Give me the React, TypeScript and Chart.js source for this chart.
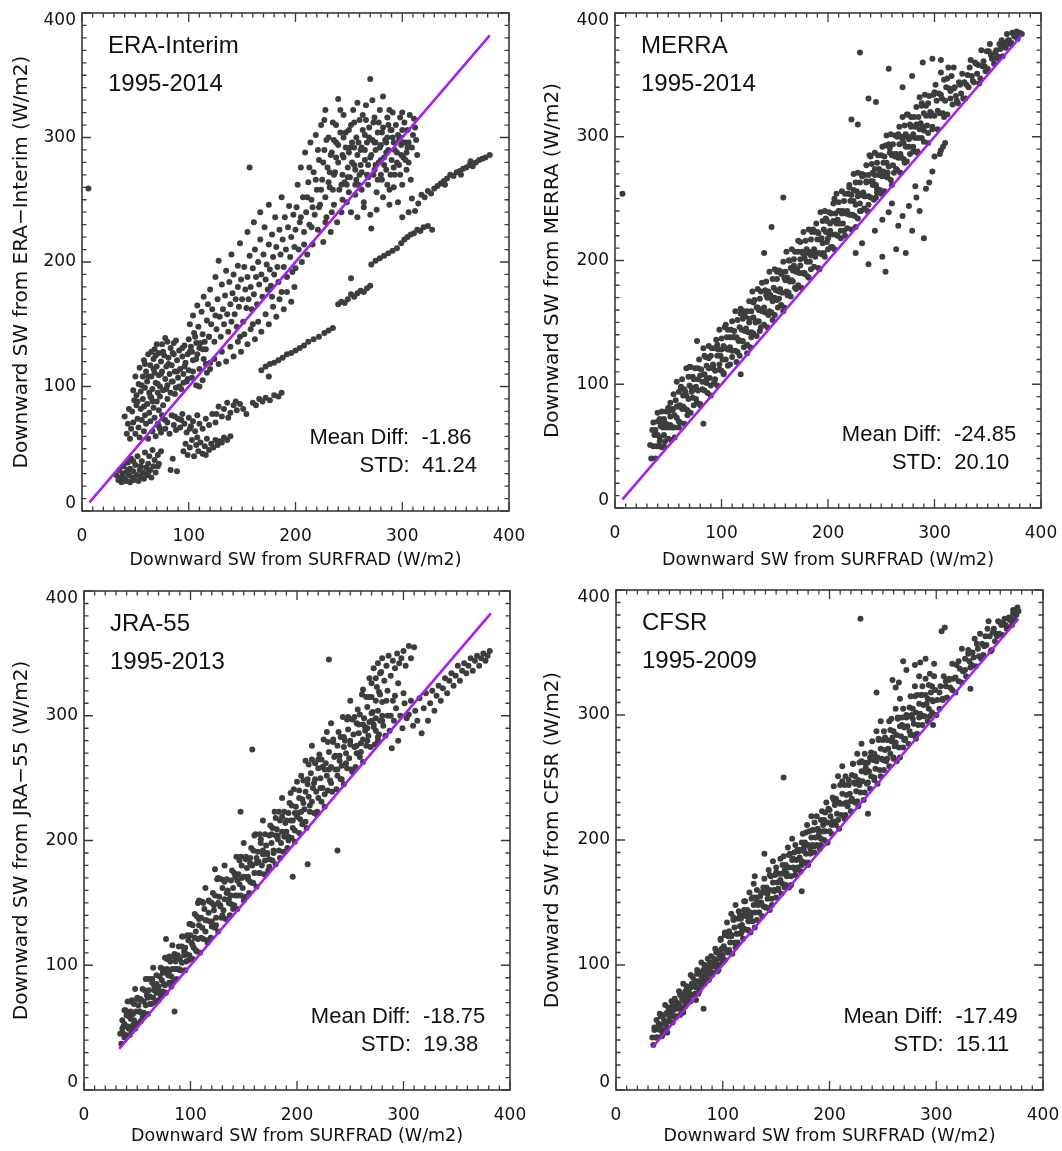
import React, { useEffect, useRef } from "react";
import { Chart, registerables } from "chart.js";

Chart.register(...registerables);

// ---------- data ----------
const axisTickValues = [0, 100, 200, 300, 400];
const minorTickStep = 10;
const xAxisTitle = "Downward SW from SURFRAD (W/m2)";
const panelNames = ["ERA-Interim", "MERRA", "JRA-55", "CFSR"];
const panelPeriods = ["1995-2014", "1995-2014", "1995-2013", "1995-2009"];
const yAxisTitles = [
  "Downward SW from ERA\u2212Interim (W/m2)",
  "Downward SW from MERRA (W/m2)",
  "Downward SW from JRA\u221255 (W/m2)",
  "Downward SW from CFSR (W/m2)",
];
const meanDiffs = ["-1.86", "-24.85", "-18.75", "-17.49"];
const stdValues = ["41.24", "20.10", "19.38", "15.11"];
const oneToOneStart = [7, 7, 33, 34];
const oneToOneEnd = [382, 382, 382, 377];

const eraPoints: [number, number][] = [
  [6,259],
  [32,29],[34,25],[35,33],[36,27],[37,23],[38,30],[39,36],[40,26],[41,31],[42,24],[43,39],[44,29],[45,34],[45,23],[46,42],[47,27],[48,32],[49,25],[50,37],[51,29],[52,44],[53,24],[54,33],[55,28],[56,40],[57,31],[58,26],[59,47],[60,35],[61,29],[62,38],[63,44],[64,33],[65,27],[66,49],[67,36],[68,41],[69,31],[71,45],[72,38],[74,48],[85,42],[83,33],[89,32],[71,36],[55,36],[48,40],[43,33],[39,24],[62,31],
  [40,76],[42,62],[43,70],[45,58],[46,66],[47,80],[48,71],[50,62],[51,85],[52,74],[53,67],[54,59],[55,82],[56,73],[57,90],[58,64],[59,77],[60,70],[61,86],[62,58],[63,79],[64,72],[65,91],[66,64],[67,83],[68,75],[69,60],[70,88],[71,70],[72,81],[73,66],[75,77],[76,85],[78,73],[44,82],[49,89],
  [48,97],[50,108],[51,93],[53,102],[54,115],[55,96],[57,108],[58,121],[59,99],[60,112],[61,104],[62,126],[63,95],[64,117],[65,108],[66,98],[67,122],[68,111],[68,130],[69,103],[70,116],[71,95],[72,127],[72,109],[73,100],[74,120],[75,134],[75,112],[76,97],[77,125],[78,106],[79,116],[80,136],[80,101],[81,123],[82,110],[83,95],[83,131],[84,117],[85,104],[86,126],[87,112],[88,99],[88,137],[89,121],[90,107],[91,129],[92,114],[93,98],[94,124],[95,110],[96,133],[97,119],[98,104],[99,126],[100,113],[102,132],[103,107],[104,121],[106,140],[107,101],[108,126],[110,114],[111,135],[113,105],[114,122],[116,130],[117,111],[119,140],[120,119],[65,128],[70,134],[78,139],[85,127],
  [52,88],[56,101],[59,118],[62,108],[64,92],[67,114],[69,125],[71,102],[74,110],[76,128],[79,98],[81,118],[84,104],[86,135],[89,112],[91,100],[94,131],[96,116],[99,106],[101,128],[104,112],[107,122],[110,100],[113,130],[116,118],[58,84],[66,88],[73,92],[80,90],[87,94],[95,103],
  [72,68],[74,63],[76,74],[78,66],[80,71],[82,62],[84,77],[86,69],[88,65],[90,74],[92,67],[94,78],[96,70],[98,63],[100,75],[102,68],[104,72],[106,64],[108,77],[110,70],[113,66],[116,74],[119,69],[122,78],[125,71],[93,73],[87,76],[101,66],
  [95,48],[97,54],[99,45],[101,51],[103,57],[105,44],[107,53],[109,48],[111,55],[113,46],[115,52],[117,58],[119,49],[121,54],[123,51],[125,57],[127,53],[129,56],[131,55],[133,59],[136,57],[139,60],[108,59],[116,45],
  [126,78],[128,84],[131,76],[133,82],[136,87],[139,79],[142,85],[145,81],[148,86],[151,82],[154,78],[137,75],[144,88],
  [160,87],[163,85],[166,90],[169,88],[172,91],[176,89],[180,93],[184,92],[187,95],
  [100,138],[101,150],[103,128],[104,157],[105,143],[107,135],[108,165],[109,148],[110,131],[112,160],[113,142],[114,172],[115,136],[117,153],[118,166],[119,140],[120,178],[121,150],[122,162],[124,136],[125,188],[125,157],[126,146],[127,170],[128,201],[129,156],[130,140],[131,182],[132,162],[133,150],[134,173],[135,193],[136,158],[137,144],[138,184],[139,166],[140,206],[140,152],[141,175],[142,190],[143,158],[144,170],[145,148],[146,197],[146,180],[147,164],[148,215],[149,186],[150,170],[151,152],[152,196],[153,178],[154,163],[155,224],[155,188],[156,170],[157,276],[157,205],[158,180],[159,162],[160,195],[161,232],[161,174],[162,210],[163,188],[164,166],[165,200],[166,182],[167,240],[167,218],[168,190],[169,172],[170,206],[171,228],[172,186],[173,198],[174,178],[175,246],[175,214],[176,194],[177,181],[178,222],[179,204],[180,190],[181,236],[182,212],[183,196],[184,184],[185,226],[186,206],[187,252],[188,218],[189,196],[190,236],[191,210],[192,188],[193,228],[194,245],[195,204],[196,220],[197,192],[198,238],[199,212],[200,226],
  [120,114],[124,122],[128,118],[131,128],[135,120],[139,132],[142,124],[146,136],[149,128],[152,142],[155,134],[158,146],[162,138],[165,152],[168,144],[172,158],[175,150],[179,164],[182,156],[185,170],[189,162],[192,176],[196,168],[199,180],[187,176],[178,172],[160,150],[148,140],
  [168,113],[172,116],[176,118],[180,119],[184,121],[188,123],[192,126],[196,127],[200,129],[204,131],[208,133],[212,136],[217,138],[222,140],[227,143],[231,145],[235,147],[240,166],[243,168],[246,167],[249,170],[252,174],[255,172],[258,175],[261,177],[264,176],[267,179],[270,181],[175,108],
  [200,195],[201,244],[202,262],[203,210],[204,232],[205,276],[206,200],[207,252],[208,224],[209,288],[210,240],[211,206],[212,264],[213,230],[214,296],[215,250],[216,214],[217,272],[218,238],[219,302],[220,258],[221,226],[222,282],[223,246],[224,310],[225,266],[226,216],[227,290],[228,322],[228,252],[229,236],[230,276],[231,300],[232,260],[233,224],[234,288],[235,312],[236,246],[237,272],[238,296],[239,232],[240,331],[240,280],[241,258],[242,304],[243,240],[244,286],[245,318],[246,264],[247,292],[248,248],[249,276],[250,306],[251,268],[252,240],[253,296],[254,322],[255,278],[256,254],[257,300],[258,286],[259,262],[260,314],[261,290],[262,272],[263,306],[264,248],[265,282],[266,326],[267,296],[268,262],[269,308],[270,347],[270,284],[271,227],[272,298],[273,270],[274,316],[275,290],[276,256],[277,304],[278,280],[279,322],[280,294],[281,266],[282,333],[282,308],[283,284],[284,298],[285,274],[286,316],[287,290],[288,258],[289,306],[290,282],[291,320],[292,296],[293,270],[294,310],[295,288],[296,302],[297,278],[298,316],[299,294],[300,306],[301,284],[302,312],[303,296],[305,306],[306,280],[307,318],[309,292],[310,302],[311,315],[313,298],[314,286],[308,266],[304,274],
  [232,272],[238,284],[244,270],[250,288],[256,274],[262,292],[268,278],[274,296],[280,282],[286,300],[245,300],[255,292],[265,302],[275,278],[285,288],[235,258],[248,262],[260,270],[236,298],[252,310],[266,314],[278,312],[290,306],[298,300],[227,314],[242,322],[258,328],[272,330],[288,322],[300,320],[306,296],[312,308],[292,260],[300,262],[296,248],[288,246],[282,252],[276,242],[270,238],[264,244],[258,236],[252,187],
  [211,252],[213,276],[216,244],[219,266],[221,290],[224,258],[226,280],[229,298],[231,264],[233,286],[236,270],[238,310],[240,294],[243,262],[245,284],[247,304],[249,268],[251,292],[253,280],[255,312],[257,266],[259,296],[261,278],[263,318],[265,290],[267,270],[269,300],[271,286],[273,312],[275,296],[277,266],[279,292],[281,304],[283,278],[285,296],[287,310],[289,270],[291,300],[293,290],[295,280],[297,298],[299,286],[301,296],[303,282],[305,292],[244,250],[250,256],[256,262],[262,258],[268,268],[274,274],[280,270],[286,262],[292,276],[298,270],[304,288],[234,240],[228,232],[222,244],[215,228],[208,214],[205,236],
  [271,198],[275,201],[279,203],[283,205],[287,207],[291,209],[295,211],[299,215],[302,218],[305,220],[308,222],[311,223],[314,226],[317,225],[320,228],[324,229],[328,226],[309,251],[312,241],[315,247],[318,254],[321,252],[324,257],[327,255],[330,259],[333,261],[336,263],[339,265],[342,267],[345,270],[348,269],[351,272],[354,273],[357,275],[360,276],[363,278],[366,277],[369,280],[372,282],[375,283],[378,284],[382,286],[340,262],[355,270],[364,281],[306,240],[300,236],
];

const merraPoints: [number, number][] = [
  [7,254],[230,368],[222,314],[257,355],[270,340],[279,349],[289,360],[298,363],[306,362],[238,331],[245,328],[77,135],[83,68],[118,108],[140,206],[147,227],[158,251],[228,310],
  [33,51],[34,40],[35,63],[36,50],[36,69],[37,59],[38,40],[38,63],[39,50],[40,77],[40,59],[41,50],[42,72],[42,57],[43,66],[44,49],[44,78],[45,65],[46,59],[46,72],[47,54],[48,78],[48,65],
  [49,67],[50,56],[50,78],[51,65],[52,85],[52,74],[53,55],[54,79],[54,65],[55,92],[56,75],[56,65],[57,87],[58,73],[58,102],[59,82],[60,65],[60,94],
  [61,83],[61,69],[62,97],[63,80],[63,104],[64,91],[65,68],[65,96],[66,80],[67,113],[67,91],[68,79],[69,106],[69,88],[70,99],[71,77],[71,114],[72,97],[73,89],[73,106],[74,83],[75,113],[75,96],
  [76,98],[77,85],[78,113],[78,95],[79,120],[80,107],[80,83],[81,112],[82,96],[83,129],[84,108],[84,95],[85,122],[86,105],[86,115],[87,93],[88,131],[88,113],[89,105],[90,123],[90,99],[91,129],[92,113],
  [92,114],[93,101],[94,129],[94,111],[95,136],[96,123],[96,99],[97,128],[98,112],[98,144],[99,123],[100,111],[100,137],[101,120],[102,131],[102,108],[103,146],[104,129],[104,120],[105,138],[106,115],[106,144],[107,128],
  [108,130],[108,116],[109,144],[110,127],[110,151],[111,138],[112,143],[113,127],[113,159],[114,138],[115,126],[115,152],[116,135],[117,146],[117,123],[118,161],[119,144],[119,135],[120,153],[121,130],[121,159],[122,143],
  [123,145],[124,132],[124,159],[125,142],[126,167],[126,153],[127,130],[128,159],[128,142],[129,175],[130,154],[130,141],[131,168],[132,151],[133,162],[133,139],[134,177],[135,160],[135,151],[136,169],[137,146],[137,175],[138,159],
  [139,161],[140,148],[141,176],[141,158],[142,183],[143,170],[143,146],[144,175],[145,159],[145,191],[146,170],[147,158],[148,185],[148,167],[149,178],[150,156],[150,193],[151,176],[152,168],[152,185],[153,162],[154,192],[154,175],
  [155,177],[156,164],[156,191],[157,174],[158,199],[159,186],[159,162],[160,191],[161,175],[161,207],[162,186],[163,174],[163,200],[164,183],[165,194],[165,171],[166,209],[167,192],[167,183],[168,201],[169,178],[169,207],[170,191],
  [171,193],[172,180],[172,207],[173,190],[174,215],[174,201],[175,178],[176,207],[176,190],[177,223],[178,202],[178,189],[179,216],[180,199],[180,209],[181,187],[182,225],[182,207],[183,199],[184,217],[184,193],[185,223],[186,207],
  [187,209],[187,195],[188,223],[189,206],[189,230],[190,217],[191,194],[191,222],[192,206],[193,239],[193,217],[194,205],[195,232],[195,214],[196,225],[197,203],[197,240],[198,223],[199,215],[199,232],[200,209],[201,239],[201,222],
  [202,224],[203,211],[203,238],[204,221],[205,246],[205,232],[206,209],[207,238],[207,221],[208,254],[209,233],[209,220],[210,247],[211,230],[211,240],[212,218],[213,256],[213,238],[214,230],[215,248],[215,224],[216,254],[217,238],
  [218,240],[218,226],[219,254],[220,237],[220,261],[221,248],[222,225],[222,253],[223,237],[224,270],[224,248],[225,236],[226,263],[226,245],[227,256],[228,234],[228,271],[229,254],[230,246],[230,263],[231,240],[232,270],[232,253],
  [233,255],[234,242],[234,269],[235,252],[236,277],[236,263],[237,240],[238,269],[238,252],[239,285],[240,264],[240,251],[241,278],[242,261],[242,271],[243,249],[244,287],[244,269],[245,261],[246,279],[246,255],[247,285],[248,269],
  [249,271],[249,257],[250,285],[251,268],[251,292],[252,279],[253,256],[253,284],[254,268],[255,301],[255,279],[256,267],[257,294],[257,276],[258,287],[259,265],[259,302],[260,285],[261,277],[261,294],[262,271],[263,301],[263,284],
  [264,286],[265,273],[265,300],[266,283],[267,308],[267,294],[268,271],[269,300],[269,283],[270,316],[271,295],[271,282],[272,309],[273,292],[273,302],[274,280],[275,318],[275,300],[276,292],[277,310],[277,286],[278,316],[279,300],
  [280,302],[280,288],[281,316],[282,299],[283,324],[283,310],[284,287],[285,316],[285,299],[286,332],[287,311],[288,299],[288,325],[289,308],[290,319],[290,296],[291,334],[292,317],[293,309],[294,327],[294,303],[295,333],[296,317],
  [297,319],[298,306],[299,334],[300,317],[301,342],[302,329],[303,306],[304,335],[305,319],[306,352],[307,331],[308,319],[309,346],[310,329],[311,340],[312,318],[313,356],[314,339],[315,331],[316,349],[317,326],[318,356],[319,340],
  [320,333],[322,327],[323,344],[325,335],[326,351],[328,344],[329,331],[331,350],[332,340],[334,362],[335,349],[337,344],[338,360],[340,351],[341,358],[343,347],[344,370],[346,361],[347,357],[349,369],[350,355],[352,375],[353,366],
  [355,363],[356,359],[358,370],[359,365],[361,375],[362,371],[364,365],[365,376],[367,372],[368,383],[370,378],[371,375],[373,384],[375,382],[377,385],[378,380],[380,384],[382,383],
  [40,70],[42,54],[44,70],[46,50],[48,68],[50,81],[52,67],[54,80],[56,57],[58,82],[60,70],[62,98],[64,82],[66,94],[68,75],[70,114],[72,94],[74,104],[76,88],[78,104],[80,84],[82,102],[84,123],[86,101],[88,121],[90,91],[92,116],[94,104],[96,132],[98,116],
  [100,128],[102,109],[104,148],[106,128],[108,138],[110,122],[112,138],[114,118],[116,136],[118,157],[120,135],[122,155],[124,125],[126,150],[128,138],[130,166],[132,150],[134,162],[136,143],[138,182],[140,162],[142,172],[144,156],[146,172],[148,152],[150,170],[152,191],[154,169],[156,189],[158,159],
  [160,184],[162,172],[164,200],[166,184],[168,196],[170,177],[172,216],[174,196],[176,206],[178,190],[180,206],[182,186],[184,204],[186,225],[188,203],[190,223],[192,193],[194,218],[196,206],[198,234],[200,218],[202,230],[204,211],[206,250],[208,230],[210,240],[212,224],[214,240],[216,220],[218,238],
  [220,259],[222,237],[224,257],[226,227],[228,252],[230,240],[232,268],[234,252],[236,264],[238,245],[240,284],[242,264],[244,274],[246,258],[248,274],[250,254],[252,272],[254,293],[256,271],[258,291],[260,261],[262,286],[264,274],[266,302],[268,286],[270,298],[272,279],[274,318],[276,298],[278,308],
  [280,292],[282,308],[284,288],[286,306],[288,327],[290,305],[292,325],[294,295],[296,320],[298,308],[300,336],[303,321],[306,334],[309,316],[312,347],[315,337],[318,339],[321,329],[324,342],[327,331],[330,342],[333,356],[336,345],[339,359],[342,343],[345,357],[348,353],[351,369],[354,363],[357,368],[360,363],[363,378],[366,374],[369,378],[372,376],[375,381],[378,379],
  [226,206],[232,214],[238,197],[244,224],[245,251],[251,203],[251,233],[254,191],[257,239],[260,246],[264,209],[266,228],[270,236],[273,206],[276,244],[279,224],[282,260],[283,251],[286,240],[290,218],[292,258],[295,263],[298,272],[300,284],[305,286],[306,289],[308,292],[310,295],
];

const jraPoints: [number, number][] = [
  [34,45],[35,37],[36,56],[37,45],[38,64],[38,53],[39,44],[40,63],[41,51],[41,71],[42,59],[43,44],[44,63],[44,57],[45,72],[46,52],[47,69],[47,56],[48,81],[49,63],[50,53],[50,74],[51,68],
  [52,63],[53,55],[53,73],[54,62],[55,81],[56,71],[56,61],[57,80],[58,68],[59,89],[59,76],[60,61],[61,80],[62,75],[62,89],[63,69],[64,86],[65,74],[65,98],[66,80],[67,70],[68,92],[68,85],
  [69,80],[70,72],[71,91],[71,79],[72,98],[73,88],[74,79],[74,97],[75,85],[76,106],[77,94],[77,78],[78,97],[79,92],[80,107],[80,86],[81,103],[82,91],[83,116],[83,97],[84,87],[85,109],[86,103],
  [86,97],[87,89],[88,108],[89,97],[89,115],[90,105],[91,96],[92,115],[92,102],[93,123],[94,111],[95,96],[95,114],[96,109],[97,124],[98,104],[98,120],[99,108],[100,133],
  [77,121],[85,63],[99,133],[39,64],[42,49],[37,51],[45,47],[55,58],
  [101,118],[102,105],[102,132],[103,114],[104,141],[105,127],[105,112],[106,139],[107,121],[108,152],[108,132],[109,110],[110,138],[111,130],[111,151],[112,121],[113,145],[114,127],[114,162],[115,136],[116,120],[117,152],[117,142],
  [118,135],[119,122],[120,150],[120,131],[121,158],[122,144],[123,130],[123,156],[124,138],[125,169],[126,150],[126,127],[127,155],[128,147],[129,169],[129,138],[130,162],[131,144],[132,180],[132,153],[133,137],[134,169],[135,160],
  [136,153],[137,140],[138,168],[138,149],[139,176],[140,162],[141,148],[141,174],[142,156],[143,187],[144,168],[144,145],[145,173],[146,165],[147,187],[147,156],[148,180],[149,162],[150,198],[150,171],[151,155],[152,187],[153,178],
  [154,171],[155,158],[156,186],[156,167],[157,194],[158,180],[159,166],[159,192],[160,174],[161,205],[162,186],[162,163],[163,191],[164,183],[165,205],[165,174],[166,198],[167,180],[168,216],[168,189],[169,173],[170,205],[171,196],
  [172,189],[173,176],[174,204],[174,185],[175,212],[176,198],[177,184],[177,210],[178,192],[179,223],[180,204],[180,181],[181,209],[182,201],[183,223],[183,192],[184,216],[185,198],[186,234],[186,207],[187,191],[188,223],[189,214],
  [190,207],[191,194],[192,222],[192,203],[193,230],[194,216],[195,202],[195,228],[196,210],[197,241],[198,222],[198,199],[199,227],[200,219],
  [107,150],[123,177],[147,223],[158,273],[196,171],[210,181],[238,192],
  [201,222],[202,206],[202,240],[203,217],[204,252],[205,233],[205,213],[206,248],[207,225],[208,264],[208,239],[209,210],[210,245],[211,235],[211,261],[212,223],[213,254],[214,231],[214,276],[215,242],[216,222],[217,262],[217,249],
  [218,239],[219,223],[220,258],[220,234],[221,269],[222,250],[223,231],[223,265],[224,242],[225,281],[226,257],[226,227],[227,262],[228,252],[229,279],[229,240],[230,271],[231,248],[232,294],[232,259],[233,239],[234,279],[235,267],
  [236,257],[237,241],[238,276],[238,252],[239,287],[240,268],[241,249],[241,283],[242,260],[243,299],[244,275],[244,245],[245,280],[246,270],[247,297],[247,258],[248,289],[249,266],[250,312],[250,277],[251,257],[252,297],[253,285],
  [254,275],[255,259],[256,294],[256,270],[257,305],[258,286],[259,267],[259,301],[260,278],[261,317],[262,293],[262,263],[263,298],[264,288],[265,315],[265,276],[266,307],[267,284],[268,330],[268,295],[269,275],[270,315],[271,303],
  [272,293],[273,277],[274,312],[274,288],[275,323],[276,304],[277,285],[277,319],[278,296],[279,335],[280,311],
  [230,345],[270,326],[272,338],[274,330],[276,342],[278,334],[280,346],[282,328],[284,340],[286,348],[288,332],[290,344],[292,338],[294,350],[296,342],[298,346],[300,352],[302,340],[305,356],[307,346],[310,355],[285,320],[290,312],[295,326],[300,318],
  [262,281],[266,290],[270,296],[276,280],[280,300],[284,312],[288,300],[292,316],
  [36,49],[38,42],[40,60],[42,50],[44,71],[46,61],[48,49],[50,73],[52,63],[54,72],[56,62],[58,89],[60,74],[62,69],[64,89],[66,83],[68,78],[70,83],[72,76],[74,94],[76,84],[78,105],[80,95],[82,83],[84,107],[86,97],[88,106],[90,96],[92,123],[94,108],[96,103],[98,123],
  [100,124],[102,116],[104,122],[106,111],[108,137],[110,122],[112,150],[114,136],[116,118],[118,151],[120,135],[122,148],[124,132],[126,170],[128,148],[130,140],[132,167],[134,158],[136,150],[138,156],[140,145],[142,171],[144,156],[146,184],[148,170],[150,152],[152,185],[154,169],[156,182],[158,166],
  [160,204],[162,182],[164,174],[166,201],[168,192],[170,184],[172,190],[174,179],[176,205],[178,190],[180,218],[182,204],[184,186],[186,219],[188,203],[190,216],[192,200],[194,238],[196,216],[198,208],
  [200,247],[202,234],[204,223],[206,230],[208,215],[210,249],[212,228],[214,265],[216,246],[218,221],[220,265],[222,242],[224,259],[226,237],[228,287],[230,257],[232,246],[234,281],[236,268],[238,257],[240,264],[242,249],[244,283],[246,262],[248,299],[250,280],[252,255],[254,299],[256,276],[258,293],[260,271],[262,321],[264,291],[266,280],[268,315],[270,302],[272,291],[274,298],[276,283],[278,317],[280,296],
  [281,292],[283,284],[285,300],[287,288],[289,274],[291,296],[293,306],[295,280],[297,300],[299,290],[301,310],[303,298],[305,301],[307,312],[309,292],[311,304],[313,296],[315,314],[317,286],[319,306],[321,318],[323,296],[325,310],[327,320],[329,304],[331,316],[333,324],[335,312],[337,322],[339,330],[341,318],[343,328],[345,334],[347,324],[349,332],[351,340],[353,328],[355,336],[357,342],[359,334],[361,340],[363,346],[365,336],[367,344],[369,348],[371,340],[373,346],[375,350],[377,344],[379,348],[381,352],
];

const cfsrPoints: [number, number][] = [
  [34,42],[35,36],[36,50],[37,42],[38,56],[38,49],[39,42],[40,53],[41,48],[41,61],[42,52],[43,43],[44,60],[44,48],[45,56],[46,68],[47,54],[47,61],[48,50],[49,66],[50,59],[50,55],[51,63],
  [52,60],[53,54],[53,67],[54,59],[55,73],[56,67],[56,59],[57,70],[58,65],[59,79],[59,69],[60,60],[61,77],[62,66],[62,73],[63,85],[64,71],[65,79],[65,67],[66,83],[67,76],[68,73],[68,80],
  [69,77],[70,71],[71,85],[71,76],[72,90],[73,84],[74,77],[74,87],[75,82],[76,96],[77,87],[77,77],[78,94],[79,83],[80,91],[80,102],[81,88],[82,96],[83,85],[83,100],[84,93],[85,90],[86,98],
  [86,94],[87,88],[88,102],[89,94],[89,107],[90,101],[91,94],[92,105],[92,99],[93,113],[94,104],[95,95],[95,111],[96,100],[97,108],[98,120],[98,105],[99,113],[100,102],
  [82,65],[98,121],[63,62],[70,92],[75,72],[48,46],
  [101,115],[102,104],[102,126],[103,112],[104,134],[105,123],[105,110],[106,127],[107,118],[108,141],[108,124],[109,109],[110,136],[111,118],[111,130],[112,148],[113,125],[114,137],[114,118],[115,143],[116,131],[117,125],[117,137],
  [118,132],[119,121],[120,144],[120,129],[121,151],[122,140],[123,128],[123,144],[124,135],[125,158],[126,142],[126,126],[127,153],[128,135],[129,148],[129,165],[130,142],[131,154],[132,136],[132,160],[133,148],[134,142],[135,155],
  [136,150],[137,139],[138,162],[138,147],[139,169],[140,158],[141,146],[141,162],[142,153],[143,176],[144,160],[144,144],[145,171],[146,153],[147,166],[147,183],[148,160],[149,172],[150,154],[150,178],[151,166],[152,160],[153,173],
  [154,168],[155,157],[156,180],[156,165],[157,187],[158,176],[159,164],[159,180],[160,171],[161,194],[162,178],[162,162],[163,189],[164,171],[165,184],[165,201],[166,178],[167,190],[168,172],[168,196],[169,184],[170,178],[171,191],
  [172,186],[173,175],[174,198],[174,183],[175,205],[176,194],[177,182],[177,198],[178,189],[179,212],[180,196],[180,180],[181,207],[182,189],[183,202],[183,219],[184,196],[185,208],[186,190],[186,214],[187,202],[188,196],[189,209],
  [190,204],[191,193],[192,216],[192,201],[193,223],[194,212],[195,200],[195,216],[196,207],[197,230],[198,214],[198,198],[199,225],[200,207],
  [130,171],[139,189],[157,250],[174,159],[120,140],
  [201,219],[202,205],[203,234],[203,215],[204,243],[205,228],[206,212],[206,233],[207,221],[208,251],[209,230],[209,209],[210,244],[211,220],[212,237],[212,259],[213,229],[214,244],[215,220],[215,251],[216,236],[217,227],[218,244],
  [219,237],[220,223],[221,252],[221,233],[222,261],[223,246],[224,230],[224,251],[225,239],[226,269],[227,248],[227,227],[228,262],[229,238],[230,255],[230,277],[231,247],[232,262],[233,238],[233,269],[234,254],[235,245],[236,262],
  [237,255],[238,241],[239,270],[239,251],[240,279],[241,264],[242,248],[242,269],[243,257],[244,287],[245,266],[245,245],[246,280],[247,256],[248,273],[248,295],[249,265],[250,280],[251,256],[251,287],[252,272],[253,263],[254,280],
  [255,273],[256,259],[257,288],[257,269],[258,297],[259,282],[260,266],[260,287],[261,275],[262,305],[263,284],[263,263],[264,298],[265,274],[266,291],[266,313],[267,283],[268,298],[269,274],[269,305],[270,290],[271,281],[272,298],
  [273,291],[274,277],[275,306],[275,287],[276,315],[277,300],[278,284],[278,305],[279,293],[280,323],[281,302],[281,281],[282,316],[283,292],[284,309],[284,331],[285,301],[286,316],[287,292],[287,323],[288,308],[289,299],[290,316],
  [291,309],[292,295],[293,324],[293,305],[294,333],[295,318],[296,302],[296,323],[297,311],[298,341],[299,320],[300,300],
  [229,377],[236,221],[244,318],[259,328],[269,343],[285,342],[297,292],[305,367],[308,370],[272,336],[280,340],[290,345],[265,326],[262,322],
  [301,312],[303,305],[304,323],[306,313],[307,331],[309,323],[310,314],[312,329],[313,322],[315,341],[316,329],[318,318],[319,340],[321,327],[322,337],[324,353],[325,335],[327,345],[328,331],[330,352],[331,343],[332,338],[332,321],[334,350],
  [335,346],[337,339],[338,357],[340,347],[341,365],[343,357],[344,348],[346,363],[347,356],[349,375],[350,363],[352,352],[353,366],[355,359],[356,365],[358,375],[359,365],[361,372],[362,364],[364,377],[365,372],[367,370],[368,378],
  [370,377],[371,372],[372,381],[373,376],[374,384],[375,380],[376,386],[377,383],
  [36,48],[38,42],[40,49],[42,59],[44,45],[46,53],[48,62],[50,55],[52,71],[54,64],[56,58],[58,66],[60,76],[62,62],[64,75],[66,71],[68,81],[70,82],[72,76],[74,83],[76,93],[78,79],[80,87],[82,96],[84,89],[86,105],[88,98],[90,92],[92,100],[94,110],[96,96],[98,109],
  [100,108],[102,124],[104,124],[106,112],[108,123],[110,138],[112,114],[114,125],[116,140],[118,127],[120,151],[122,139],[124,128],[126,139],[128,154],[130,130],[132,151],[134,142],[136,158],[138,158],[140,146],[142,157],[144,172],[146,148],[148,159],[150,174],[152,161],[154,185],[156,173],[158,162],
  [160,173],[162,188],[164,164],[166,185],[168,176],[170,192],[172,192],[174,180],[176,191],[178,206],[180,182],[182,193],[184,208],[186,195],[188,219],[190,207],[192,196],[194,207],[196,222],[198,198],
  [200,224],[202,212],[204,232],[206,231],[208,216],[210,229],[212,247],[214,217],[216,230],[218,248],[220,231],[222,261],[224,245],[226,231],[228,244],[230,263],[232,232],[234,258],[236,246],[238,266],[240,265],[242,250],[244,263],[246,281],[248,251],[250,264],[252,282],[254,265],[256,295],[258,279],
  [260,265],[262,278],[264,297],[266,266],[268,292],[270,280],[272,300],[274,299],[276,284],[278,297],[280,315],[282,285],[284,298],[286,316],[288,299],[290,329],[292,313],[294,299],[296,312],[298,331],[300,300],
  [303,318],[306,312],[309,327],[312,328],[315,320],[318,330],[321,343],[324,326],[327,336],[330,349],[333,340],[336,361],[339,353],[342,345],[345,355],[348,369],[351,351],[354,369],[357,363],[360,374],[363,373],[366,369],[369,376],[372,384],
];

const panelPoints = [eraPoints, merraPoints, jraPoints, cfsrPoints];

// ---------- layout / style ----------
const panelBoxes = [
  { left: 0, top: 0, w: 531, h: 575, l: 82, t: 13, r: 509, b: 511 },
  { left: 531, top: 0, w: 531, h: 575, l: 84, t: 13, r: 510, b: 508 },
  { left: 0, top: 575, w: 531, h: 576, l: 84, t: 16, r: 510, b: 515 },
  { left: 531, top: 575, w: 531, h: 576, l: 85, t: 15, r: 512, b: 515 },
];
const axisFont = "DejaVu Sans";
const labelFont = "Liberation Sans";
const textColor = "#111111";
const frameColor = "#3a3a3a";
const dotColor = "#3d3d3d";
const lineColor = "#a41ff0";

function makePlugin(idx: number) {
  return {
    id: "idlFrame" + idx,
    afterDatasetsDraw(chart: any) {
      const { ctx, chartArea: a, scales } = chart;
      const xs = scales.x;
      const ys = scales.y;
      ctx.save();
      ctx.strokeStyle = frameColor;
      ctx.lineWidth = 1.6;
      ctx.strokeRect(a.left, a.top, a.right - a.left, a.bottom - a.top);
      ctx.lineWidth = 1.3;
      for (let v = 0; v <= 400; v += minorTickStep) {
        const len = v % 100 === 0 ? 9 : 4.5;
        const px = xs.getPixelForValue(v);
        const py = ys.getPixelForValue(v);
        ctx.beginPath();
        ctx.moveTo(px, a.bottom);
        ctx.lineTo(px, a.bottom - len);
        ctx.moveTo(px, a.top);
        ctx.lineTo(px, a.top + len);
        ctx.moveTo(a.left, py);
        ctx.lineTo(a.left + len, py);
        ctx.moveTo(a.right, py);
        ctx.lineTo(a.right - len, py);
        ctx.stroke();
      }
      // y tick labels
      ctx.fillStyle = textColor;
      ctx.font = `17px "${axisFont}"`;
      ctx.textAlign = "right";
      ctx.textBaseline = "middle";
      for (const v of axisTickValues) {
        let y = ys.getPixelForValue(v);
        if (v === 400) y = a.top + 8;
        if (v === 0) y = a.bottom - 7;
        ctx.fillText(String(v), a.left - 6, y);
      }
      // panel annotations
      ctx.textAlign = "left";
      ctx.font = `24px "${labelFont}"`;
      ctx.fillText(panelNames[idx], a.left + 26, a.top + 33);
      ctx.fillText(panelPeriods[idx], a.left + 26, a.top + 71);
      ctx.font = `22px "${labelFont}"`;
      ctx.fillText("Mean Diff:  " + meanDiffs[idx], xs.getPixelForValue(213), a.bottom - 73);
      ctx.fillText("STD:  " + stdValues[idx], xs.getPixelForValue(260), a.bottom - 45);
      ctx.restore();
    },
  };
}

function Panel({ idx }: { idx: number }) {
  const ref = useRef<HTMLCanvasElement>(null);
  const box = panelBoxes[idx];
  useEffect(() => {
    if (!ref.current) return;
    const pts = panelPoints[idx].map(([x, y]) => ({ x, y }));
    const chart = new Chart(ref.current, {
      type: "scatter",
      data: {
        datasets: [
          {
            type: "line",
            data: [
              { x: oneToOneStart[idx], y: oneToOneStart[idx] },
              { x: oneToOneEnd[idx], y: oneToOneEnd[idx] },
            ],
            borderColor: lineColor,
            borderWidth: 2.6,
            pointRadius: 0,
            showLine: true,
            fill: false,
            order: 0,
          } as any,
          {
            data: pts,
            backgroundColor: dotColor,
            borderWidth: 0,
            pointRadius: 3,
            order: 1,
          },
        ],
      },
      options: {
        animation: false,
        responsive: false,
        devicePixelRatio: 1,
        layout: { padding: { top: box.t, right: box.w - box.r, left: 0, bottom: 0 } },
        plugins: { legend: { display: false }, tooltip: { enabled: false } },
        scales: {
          x: {
            type: "linear",
            position: "bottom",
            min: 0,
            max: 400,
            afterFit: (s: any) => {
              s.height = box.h - box.b;
              s.paddingLeft = 0;
              s.paddingRight = 0;
            },
            grid: { display: false, drawTicks: false },
            border: { display: false },
            ticks: {
              stepSize: 100,
              padding: 15,
              maxRotation: 0,
              autoSkip: false,
              color: textColor,
              font: { family: axisFont, size: 17 },
            },
            title: {
              display: true,
              text: xAxisTitle,
              color: textColor,
              font: { family: axisFont, size: 17.5 },
              padding: { top: 0, bottom: 4 },
            },
          },
          y: {
            type: "linear",
            position: "left",
            min: 0,
            max: 400,
            afterFit: (s: any) => {
              s.width = box.l;
              s.paddingTop = 0;
              s.paddingBottom = 0;
            },
            grid: { display: false, drawTicks: false },
            border: { display: false },
            ticks: { stepSize: 100, display: false },
            title: {
              display: true,
              text: yAxisTitles[idx],
              color: textColor,
              font: { family: axisFont, size: 20 },
              padding: { top: 10, bottom: 0 },
            },
          },
        },
      },
      plugins: [makePlugin(idx)],
    } as any);
    return () => chart.destroy();
  }, [idx]);
  return (
    <canvas
      ref={ref}
      width={box.w}
      height={box.h}
      style={{ position: "absolute", left: box.left, top: box.top, width: box.w, height: box.h }}
    />
  );
}

export default function App() {
  return (
    <div
      style={{
        position: "absolute",
        left: 0,
        top: 0,
        width: 1062,
        height: 1151,
        background: "#ffffff",
        overflow: "hidden",
      }}
    >
      {[0, 1, 2, 3].map((i) => (
        <Panel key={i} idx={i} />
      ))}
    </div>
  );
}
